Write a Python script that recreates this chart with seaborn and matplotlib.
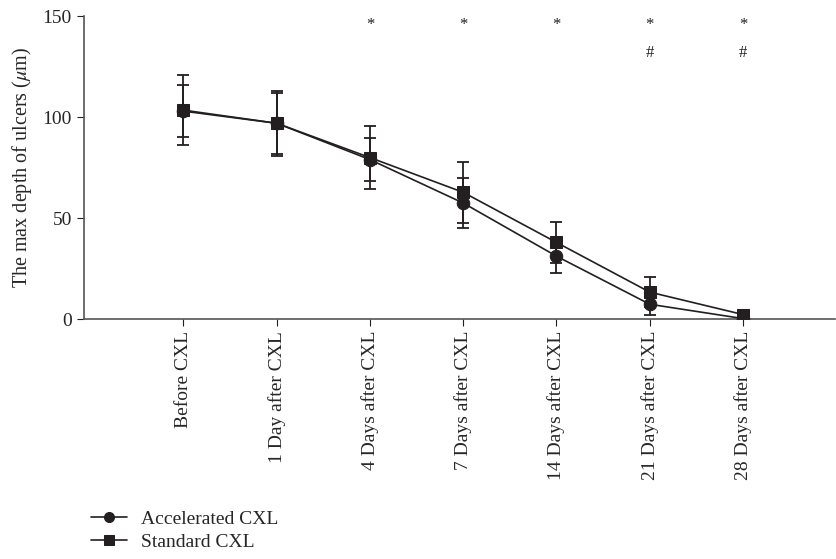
import pandas as pd
import matplotlib.pyplot as plt
import seaborn as sns

# Datos
dias = ["Before CXL", "1 Day after CXL", "4 Days after CXL", "7 Days after CXL",
        "14 Days after CXL", "21 Days after CXL", "28 Days after CXL"]
acelerado = [103.0, 97.0, 79.0, 57.5, 31.2, 7.4, 0.3]
acelerado_sd = [13.0, 15.0, 10.5, 12.5, 8.5, 5.5, 0.5]
estandar = [103.5, 97.0, 80.0, 62.8, 38.0, 13.4, 2.3]
estandar_sd = [17.5, 16.0, 15.5, 15.0, 10.0, 7.3, 0.8]
estrellas = ["*", "*", "*", "*", "*"]
pos_estrellas = [2, 3, 4, 5, 6]
numerales = ["#", "#"]
pos_numerales = [5, 6]

sns.set_style("ticks")
plt.rcParams['font.family'] = ['Liberation Serif', 'DejaVu Serif']
plt.rcParams['mathtext.fontset'] = 'stix'
negro = "#231f20"

df = pd.DataFrame({
    "x": list(range(len(dias))) * 2,
    "valor": acelerado + estandar,
    "grupo": ["Accelerated CXL"] * len(dias) + ["Standard CXL"] * len(dias),
})

fig = plt.figure(figsize=(8.37, 5.59), dpi=100)
ax = fig.add_axes([0.1, 0.429, 0.898, 0.542])

for media, sd in [(acelerado, acelerado_sd), (estandar, estandar_sd)]:
    ax.errorbar(range(len(dias)), media, yerr=sd, fmt="none", ecolor=negro,
                elinewidth=1.3, capsize=4.5, capthick=1.3, zorder=2)

sns.lineplot(data=df, x="x", y="valor", hue="grupo", style="grupo",
             markers={"Accelerated CXL": "o", "Standard CXL": "s"}, dashes=False,
             palette=[negro, negro], markersize=9, linewidth=1.2,
             markeredgecolor=negro, ax=ax, zorder=3)

for p, s in zip(pos_estrellas, estrellas):
    ax.text(p, 145.5, s, ha="center", va="center", fontsize=12, color=negro)
for p, s in zip(pos_numerales, numerales):
    ax.text(p, 132, s, ha="center", va="center", fontsize=12, color=negro)

ax.set_xlim(-1.07, 6.99)
ax.set_ylim(0, 150)
ax.set_yticks([0, 50, 100, 150])
ax.set_xticks(range(len(dias)))
ax.set_xticklabels(dias, rotation=90, fontsize=14)
ax.tick_params(axis="y", labelsize=14, direction="out", length=5, color=negro)
ax.tick_params(axis="x", direction="out", length=5, color=negro)
ax.set_xlabel("")
ax.set_ylabel(r"The max depth of ulcers ($\mu$m)", fontsize=14.5, labelpad=6)
sns.despine(ax=ax)
for sp in ["left", "bottom"]:
    ax.spines[sp].set_color("#555555")
    ax.spines[sp].set_linewidth(1.2)

h, l = ax.get_legend_handles_labels()
ax.legend(h, l, loc="lower left", bbox_to_anchor=(0.1, 0.0),
          bbox_transform=fig.transFigure, frameon=False, fontsize=14,
          handlelength=1.85, handletextpad=0.7, labelspacing=0.3,
          borderaxespad=0, markerscale=0.8)

plt.savefig("out.png", dpi=100)
